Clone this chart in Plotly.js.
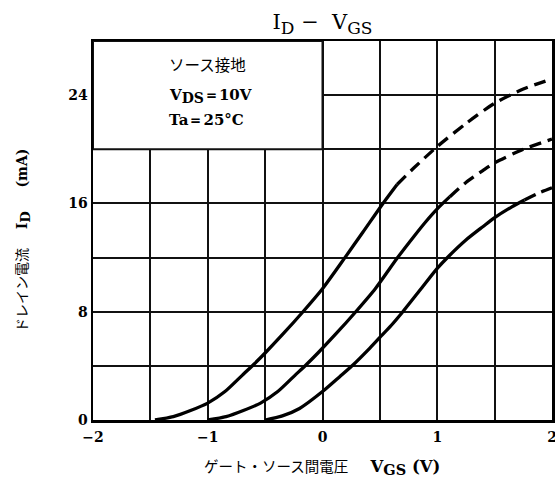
<!DOCTYPE html>
<html>
<head>
<meta charset="utf-8">
<script src="https://cdn.plot.ly/plotly-3.0.1.min.js"></script>
<style>html,body{margin:0;padding:0;background:#fff;}</style>
</head>
<body>
<div id="chart" style="width:555px;height:488px;"></div>
<script>
// Curve 1 (leftmost)
const c1SolidX = [-1.46, -1.3, -1.15, -1.0, -0.85, -0.7, -0.6, -0.5, -0.35, -0.17, 0.0, 0.2, 0.35, 0.527, 0.65];
const c1SolidY = [0.0, 0.25, 0.7, 1.25, 2.1, 3.3, 4.1, 4.95, 6.3, 8.0, 9.7, 12.05, 13.85, 16.0, 17.4];
const c1DashX = [0.65, 0.8, 1.0, 1.25, 1.5, 1.75, 2.0];
const c1DashY = [17.4, 18.65, 20.2, 21.9, 23.4, 24.45, 25.2];
// Curve 2 (middle)
const c2SolidX = [-1.0, -0.84, -0.69, -0.54, -0.39, -0.24, -0.14, -0.04, 0.11, 0.29, 0.46, 0.65, 0.8, 0.9, 1.0, 1.11];
const c2SolidY = [0.0, 0.25, 0.7, 1.25, 2.1, 3.3, 4.1, 4.95, 6.3, 8.0, 9.7, 11.95, 13.6, 14.65, 15.6, 16.5];
const c2DashX = [1.11, 1.25, 1.4, 1.5, 1.75, 2.0];
const c2DashY = [16.5, 17.55, 18.45, 19.0, 20.0, 20.75];
// Curve 3 (rightmost)
const c3SolidX = [-0.5, -0.35, -0.2, 0.0, 0.15, 0.27, 0.4, 0.5, 0.6, 0.7, 0.85, 1.0, 1.1, 1.25, 1.4, 1.5, 1.65, 1.76];
const c3SolidY = [0.0, 0.3, 0.85, 2.1, 3.2, 4.1, 5.2, 6.1, 7.0, 8.0, 9.6, 11.2, 12.1, 13.3, 14.3, 14.95, 15.75, 16.25];
const c3DashX = [1.76, 1.88, 2.0];
const c3DashY = [16.25, 16.75, 17.15];

const xTickVals = [-2, -1, 0, 1, 2];
const xTickText = ['\u22122', '\u22121', '0', '1', '2'];
const yTickVals = [0, 8, 16, 24];
const yTickText = ['0', '8', '16', '24'];

const serif = 'DejaVu Serif, Liberation Serif, serif';
const sans = 'Noto Sans CJK JP, sans-serif';

function solid(x, y) {
  return {x: x, y: y, mode: 'lines', line: {color: '#000', width: 3.3, shape: 'spline', smoothing: 0.7}, hoverinfo: 'skip'};
}
function dashed(x, y) {
  return {x: x, y: y, mode: 'lines', line: {color: '#000', width: 3.3, dash: '12px,7px', shape: 'spline', smoothing: 0.7}, hoverinfo: 'skip'};
}

const data = [
  solid(c1SolidX, c1SolidY), dashed(c1DashX, c1DashY),
  solid(c2SolidX, c2SolidY), dashed(c2DashX, c2DashY),
  solid(c3SolidX, c3SolidY), dashed(c3DashX, c3DashY)
];

const gw = 2;
const gc = '#111';
const layout = {
  width: 555, height: 488,
  margin: {l: 93, r: 3, t: 41, b: 68},
  paper_bgcolor: '#fff', plot_bgcolor: '#fff',
  showlegend: false,
  title: {
    text: 'I<sub><span style="font-size:17px">D</span></sub> \u2212  V<sub><span style="font-size:17px">GS</span></sub>',
    x: 0.5, xref: 'paper', xanchor: 'center',
    y: 0.955, yref: 'container', yanchor: 'middle',
    font: {family: serif, size: 21, color: '#000'}
  },
  xaxis: {
    range: [-2, 2], fixedrange: true,
    tickvals: xTickVals, ticktext: xTickText,
    ticks: '', showline: true, linecolor: '#000', linewidth: 2.5, mirror: true,
    showgrid: true, gridcolor: gc, gridwidth: gw,
    minor: {dtick: 0.5, showgrid: true, gridcolor: gc, gridwidth: gw},
    zeroline: false,
    ticklabeloverflow: 'allow',
    tickfont: {family: serif, size: 14, color: '#000', weight: 'bold'},
    ticklabelstandoff: 3
  },
  yaxis: {
    range: [0, 28], fixedrange: true,
    tickvals: yTickVals, ticktext: yTickText,
    ticks: '', showline: true, linecolor: '#000', linewidth: 2.5, mirror: true,
    showgrid: true, gridcolor: gc, gridwidth: gw,
    minor: {dtick: 4, showgrid: true, gridcolor: gc, gridwidth: gw},
    zeroline: false,
    ticklabeloverflow: 'allow',
    tickfont: {family: serif, size: 14, color: '#000', weight: 'bold'},
    ticklabelstandoff: 0
  },
  shapes: [
    {type: 'rect', xref: 'x', yref: 'y', x0: -2, x1: 0, y0: 20, y1: 28,
     fillcolor: '#fff', line: {color: gc, width: gw}, layer: 'above'}
  ],
  annotations: [
    {text: '\u30bd\u30fc\u30b9\u63a5\u5730', xref: 'paper', yref: 'paper',
     x: (167 - 93) / 459, y: (420 - 64) / 379, xanchor: 'left', yanchor: 'middle', showarrow: false,
     font: {family: sans, size: 15.5, color: '#000'}},
    {text: 'V<sub><span style="font-size:14px">DS</span></sub>\uff1d10V', xref: 'paper', yref: 'paper',
     x: (167 - 93) / 459, y: (420 - 96) / 379, xanchor: 'left', yanchor: 'middle', showarrow: false,
     font: {family: serif, size: 15, color: '#000', weight: 'bold'}},
    {text: 'Ta\uff1d25\u00b0C', xref: 'paper', yref: 'paper',
     x: (167 - 93) / 459, y: (420 - 120) / 379, xanchor: 'left', yanchor: 'middle', showarrow: false,
     font: {family: serif, size: 15, color: '#000', weight: 'bold'}},
    {text: '<span style="font-family:Noto Sans CJK JP;font-size:14.5px;font-weight:normal">\u30b2\u30fc\u30c8\u30fb\u30bd\u30fc\u30b9\u9593\u96fb\u5727</span>\u2003 V<sub><span style="font-size:14.5px">GS</span></sub> (V)',
     xref: 'paper', yref: 'paper', x: (322 - 93) / 459, y: (420 - 466) / 379,
     xanchor: 'center', yanchor: 'middle', showarrow: false,
     font: {family: serif, size: 16.5, color: '#000', weight: 'bold'}},
    {text: '<span style="font-family:Noto Sans CJK JP;font-size:14px;font-weight:normal">\u30c9\u30ec\u30a4\u30f3\u96fb\u6d41</span>\u2003 I<sub><span style="font-size:13px">D</span></sub> \u2003 (mA)',
     xref: 'paper', yref: 'paper', x: (22 - 93) / 459, y: (420 - 241) / 379,
     xanchor: 'center', yanchor: 'middle', textangle: -90, showarrow: false,
     font: {family: serif, size: 14, color: '#000', weight: 'bold'}}
  ]
};

Plotly.newPlot('chart', data, layout, {displayModeBar: false, staticPlot: true});
</script>
</body>
</html>
